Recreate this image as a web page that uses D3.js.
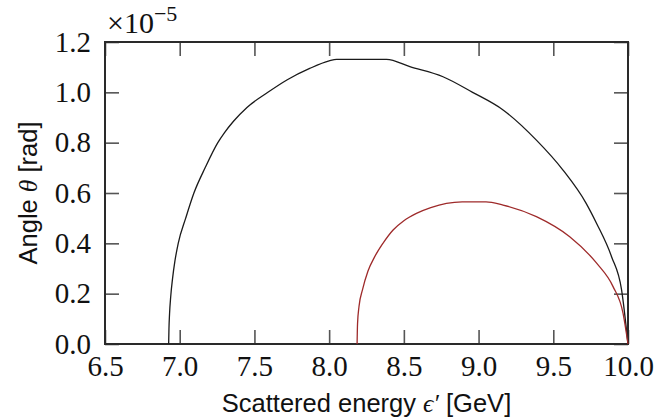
<!DOCTYPE html>
<html>
<head>
<meta charset="utf-8">
<script src="https://cdn.jsdelivr.net/npm/d3@7"></script>
<style>
  html, body { margin: 0; padding: 0; background: #fff; }
  svg { display: block; }
</style>
</head>
<body>
<svg id="chart" width="658" height="419"></svg>
<script>
// Scattered energy (GeV) and angle (units of 1e-5 rad) for the two kinematic curves
const blackEnergy = [6.926, 6.928, 6.932, 6.94, 6.952, 6.968, 6.99, 7.04, 7.095, 7.17, 7.255, 7.3, 7.36, 7.45, 7.59, 7.72, 7.87, 8.0, 8.05, 8.384, 8.54, 8.762, 8.96, 9.164, 9.387, 9.565, 9.72, 9.79, 9.89, 9.957, 10.0];
const blackAngle  = [0.0, 0.06, 0.12, 0.19, 0.26, 0.33, 0.40, 0.50, 0.60, 0.70, 0.80, 0.84, 0.885, 0.94, 1.0, 1.05, 1.095, 1.125, 1.131, 1.131, 1.102, 1.062, 1.0, 0.93, 0.81, 0.691, 0.559, 0.479, 0.347, 0.215, 0.0];

const redEnergy = [8.187, 8.19, 8.2, 8.223, 8.26, 8.305, 8.36, 8.428, 8.5, 8.584, 8.68, 8.785, 8.89, 9.05, 9.164, 9.387, 9.61, 9.79, 9.9, 9.967, 10.0];
const redAngle  = [0.0, 0.08, 0.15, 0.215, 0.29, 0.347, 0.40, 0.453, 0.49, 0.519, 0.542, 0.559, 0.565, 0.565, 0.552, 0.506, 0.426, 0.321, 0.228, 0.122, 0.0];

const xTicks = [6.5, 7.0, 7.5, 8.0, 8.5, 9.0, 9.5, 10.0];
const yTicks = [0.0, 0.2, 0.4, 0.6, 0.8, 1.0, 1.2];

const margin = { left: 105, top: 42, right: 30, bottom: 75 };
const W = 658, H = 419;
const svg = d3.select("#chart");

const x = d3.scaleLinear().domain([6.5, 10.0]).range([margin.left, W - margin.right]);
const y = d3.scaleLinear().domain([0, 1.2]).range([H - margin.bottom, margin.top]);

const serif = "'Liberation Serif', 'DejaVu Serif', serif";
const sans = "'Liberation Sans', Arial, sans-serif";
const tickLen = 14;
const axisColor = "#2a2a2a";

function styleAxis(g, showText) {
  g.select(".domain").remove();
  g.selectAll(".tick line").attr("stroke", "#555").attr("stroke-width", 1.6);
  g.selectAll(".tick text")
    .attr("fill", "#111")
    .style("font-family", serif)
    .style("font-size", "29px");
  if (!showText) g.selectAll(".tick text").remove();
}

// bottom axis with labels
svg.append("g")
  .attr("transform", `translate(0,${y(0)})`)
  .call(d3.axisBottom(x).tickValues(xTicks).tickSize(-tickLen).tickPadding(11).tickFormat(d3.format(".1f")))
  .call(g => styleAxis(g, true));

// top axis, ticks only
svg.append("g")
  .attr("transform", `translate(0,${y(1.2)})`)
  .call(d3.axisTop(x).tickValues(xTicks).tickSize(-tickLen))
  .call(g => styleAxis(g, false));

// left axis with labels
svg.append("g")
  .attr("transform", `translate(${x(6.5)},0)`)
  .call(d3.axisLeft(y).tickValues(yTicks).tickSize(-tickLen).tickPadding(14).tickFormat(d3.format(".1f")))
  .call(g => styleAxis(g, true));

// right axis, ticks only
svg.append("g")
  .attr("transform", `translate(${x(10.0)},0)`)
  .call(d3.axisRight(y).tickValues(yTicks).tickSize(-tickLen))
  .call(g => styleAxis(g, false));

// plot frame
svg.append("rect")
  .attr("x", x(6.5)).attr("y", y(1.2))
  .attr("width", x(10.0) - x(6.5)).attr("height", y(0) - y(1.2))
  .attr("fill", "none").attr("stroke", axisColor).attr("stroke-width", 2);

// curves
const line = d3.line().x(d => x(d[0])).y(d => y(d[1])).curve(d3.curveMonotoneX);
const curves = [
  { e: blackEnergy, a: blackAngle, color: "#1a1a1a" },
  { e: redEnergy, a: redAngle, color: "#9e2a2a" }
];
curves.forEach(c => {
  svg.append("path")
    .datum(d3.zip(c.e, c.a))
    .attr("d", line)
    .attr("fill", "none")
    .attr("stroke", c.color)
    .attr("stroke-width", 1.3);
});

// exponent multiplier
const mult = svg.append("text")
  .attr("x", x(6.5) + 2).attr("y", 33)
  .attr("fill", "#111")
  .style("font-family", serif).style("font-size", "30px");
mult.append("tspan").text("×10");
mult.append("tspan").attr("dy", -12).style("font-size", "22px").text("−5");

// x axis title
const xt = svg.append("text")
  .attr("x", (x(6.5) + x(10.0)) / 2).attr("y", 412)
  .attr("text-anchor", "middle").attr("fill", "#111")
  .style("font-family", sans).style("font-size", "25.5px");
xt.append("tspan").text("Scattered energy ");
xt.append("tspan").style("font-family", serif).style("font-style", "italic").text("ϵ′");
xt.append("tspan").text(" [GeV]");

// y axis title
const yt = svg.append("text")
  .attr("transform", `translate(37,${(y(0) + y(1.2)) / 2}) rotate(-90)`)
  .attr("text-anchor", "middle").attr("fill", "#111")
  .style("font-family", sans).style("font-size", "25.5px");
yt.append("tspan").text("Angle ");
yt.append("tspan").style("font-family", serif).style("font-style", "italic").text("θ");
yt.append("tspan").text(" [rad]");
</script>
</body>
</html>
